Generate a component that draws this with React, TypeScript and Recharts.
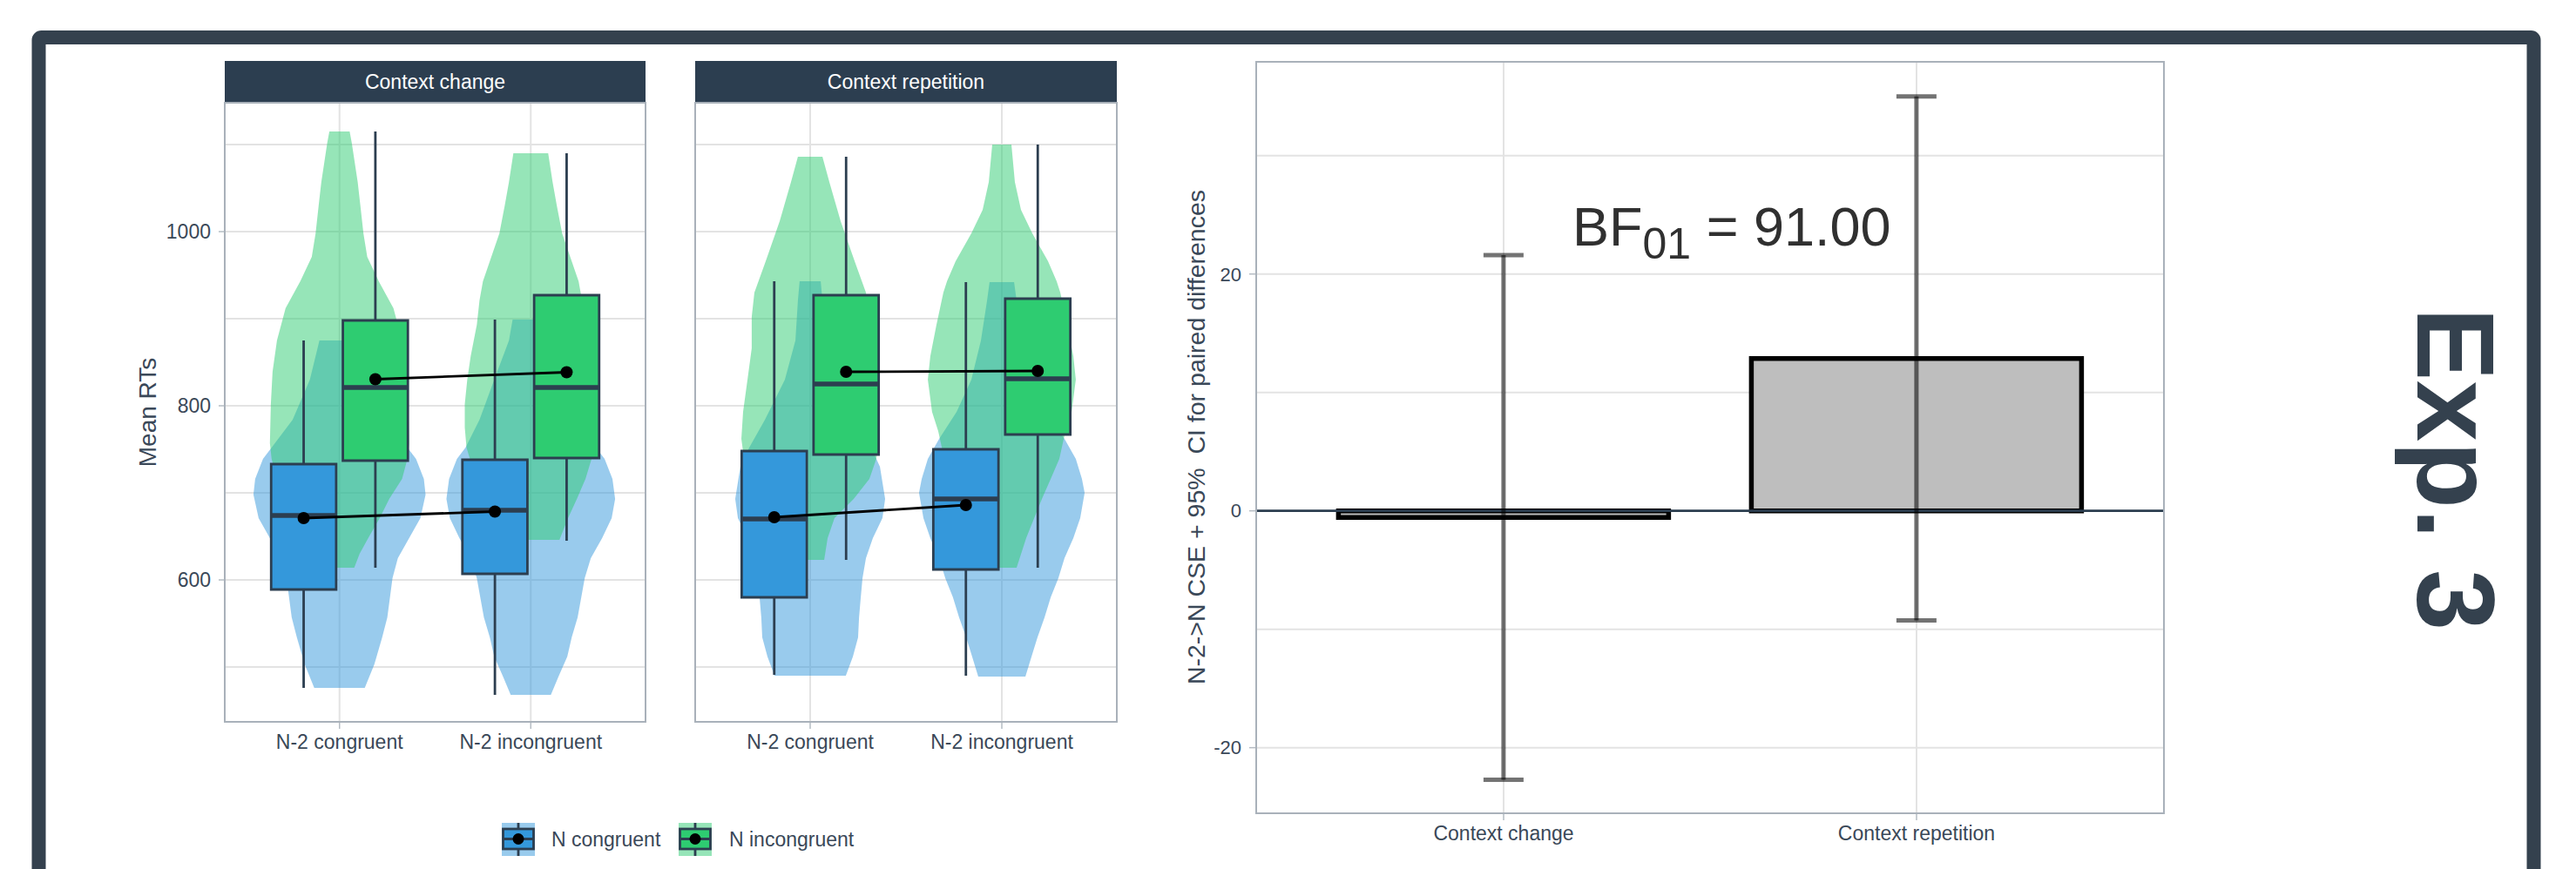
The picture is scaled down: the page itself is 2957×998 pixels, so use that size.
import React from 'react';
import {
  ComposedChart,
  Scatter,
  XAxis,
  YAxis,
  CartesianGrid,
  BarChart,
  Bar,
  ErrorBar,
  ReferenceLine,
} from 'recharts';

const FONT = '"Liberation Sans", Arial, Helvetica, sans-serif';
const BLUE = '#3498DB';
const GREEN = '#2ECC71';
const NAVY = '#2C3E50';
const FRAME = '#34414E';
const TEXT = '#3A4858';
const GRID = '#E3E3E3';
const BORDER = '#A9B1BA';
const TICK = '#B5BCC3';

// ---------- Left facets: mean RTs ----------
const facetLabels = ['Context change', 'Context repetition'];
const n2Labels = ['N-2 congruent', 'N-2 incongruent'];
const seriesLabels = ['N congruent', 'N incongruent'];
const rtTicks = [500, 600, 700, 800, 900, 1000, 1100];
const rtLabelledTicks = [600, 800, 1000];

type Box = { lo: number; q1: number; med: number; q3: number; hi: number; mean: number };

// box statistics, one entry per N-2 category
const changeCongruentBoxes: Box[] = [
  { lo: 476, q1: 589, med: 674, q3: 733, hi: 875, mean: 671 },
  { lo: 468, q1: 607, med: 680, q3: 738, hi: 899, mean: 678.5 },
];
const changeIncongruentBoxes: Box[] = [
  { lo: 614, q1: 737, med: 821, q3: 898, hi: 1115, mean: 830.5 },
  { lo: 645, q1: 740, med: 821, q3: 927, hi: 1090, mean: 838.5 },
];
const repetitionCongruentBoxes: Box[] = [
  { lo: 491, q1: 580, med: 670, q3: 748, hi: 943, mean: 672 },
  { lo: 490, q1: 612, med: 693, q3: 750, hi: 942, mean: 686 },
];
const repetitionIncongruentBoxes: Box[] = [
  { lo: 623, q1: 744, med: 825, q3: 927, hi: 1086, mean: 839 },
  { lo: 614, q1: 767, med: 831, q3: 923, hi: 1100, mean: 840 },
];

// violin outlines: [RT, half width in category units], top to bottom
const changeCongruentViolins: [number, number][][] = [
  [[875, 0.105], [830, 0.155], [784, 0.245], [752, 0.355], [739, 0.4], [716, 0.441], [698, 0.45], [671, 0.423], [648, 0.364], [625, 0.305], [602, 0.277], [557, 0.25], [534, 0.223], [503, 0.182], [476, 0.132]],
  [[899, 0.095], [875, 0.114], [830, 0.191], [784, 0.268], [752, 0.341], [739, 0.386], [716, 0.427], [693, 0.441], [671, 0.423], [648, 0.373], [625, 0.314], [602, 0.282], [580, 0.264], [557, 0.245], [534, 0.214], [512, 0.191], [489, 0.145], [468, 0.105]],
];
const changeIncongruentViolins: [number, number][][] = [
  [[1115, 0.053], [1102, 0.064], [1057, 0.095], [1030, 0.109], [998, 0.125], [971, 0.145], [943, 0.205], [912, 0.282], [875, 0.327], [839, 0.35], [802, 0.359], [757, 0.364], [739, 0.355], [716, 0.327], [693, 0.26], [671, 0.21], [648, 0.15], [630, 0.105], [614, 0.077]],
  [[1090, 0.091], [1057, 0.114], [1030, 0.136], [998, 0.164], [966, 0.214], [943, 0.25], [921, 0.268], [893, 0.282], [857, 0.314], [830, 0.332], [802, 0.345], [775, 0.345], [752, 0.336], [716, 0.286], [693, 0.241], [671, 0.195], [646, 0.15]],
];
const repetitionCongruentViolins: [number, number][][] = [
  [[943, 0.055], [921, 0.064], [875, 0.077], [830, 0.132], [784, 0.236], [752, 0.318], [730, 0.364], [693, 0.391], [671, 0.377], [648, 0.327], [625, 0.291], [602, 0.273], [580, 0.264], [557, 0.255], [534, 0.25], [512, 0.223], [490, 0.186]],
  [[942, 0.064], [921, 0.077], [875, 0.109], [830, 0.159], [793, 0.236], [762, 0.327], [739, 0.386], [716, 0.418], [700, 0.432], [671, 0.409], [648, 0.373], [625, 0.327], [602, 0.295], [580, 0.255], [557, 0.223], [534, 0.186], [512, 0.155], [489, 0.123]],
];
const repetitionIncongruentViolins: [number, number][][] = [
  [[1086, 0.064], [1057, 0.1], [1012, 0.159], [966, 0.232], [930, 0.291], [902, 0.305], [866, 0.305], [830, 0.327], [793, 0.35], [762, 0.359], [739, 0.345], [716, 0.309], [693, 0.227], [671, 0.127], [648, 0.091], [623, 0.073]],
  [[1100, 0.05], [1057, 0.068], [1025, 0.1], [998, 0.159], [966, 0.241], [943, 0.286], [930, 0.305], [893, 0.341], [857, 0.373], [830, 0.386], [793, 0.364], [771, 0.332], [739, 0.3], [716, 0.255], [693, 0.209], [648, 0.127], [614, 0.077]],
];

// ---------- Right panel: CSE differences ----------
const contexts = ['Context change', 'Context repetition'];
const cseValues = [-0.55, 12.87];
const ciLower = [-22.7, -9.26];
const ciUpper = [21.6, 35.0];
const cseTicks = [-20, -10, 0, 10, 20, 30];
const cseLabelledTicks = [-20, 0, 20];

const barData = contexts.map((context, i) => ({
  context,
  cse: cseValues[i],
  ci: [cseValues[i] - ciLower[i], ciUpper[i] - cseValues[i]],
}));

const DODGE = 0.1875;
const BOX_HALF = 0.17;

const violinOutline = (profile: [number, number][], center: number) => [
  ...profile.map(([rt, hw]) => ({ x: center + hw, y: rt })),
  ...profile
    .slice()
    .reverse()
    .map(([rt, hw]) => ({ x: center - hw, y: rt })),
];

const noDot = () => <g />;
const meanDot = (p: any) => <circle cx={p.cx} cy={p.cy} r={7} fill="#000" />;

const makeTick = (labelled: number[], fontSize: number) => (p: any) => {
  const v = p.payload.value;
  if (!labelled.includes(v)) return <g />;
  return (
    <g>
      <line x1={p.x + 9} x2={p.x + 17} y1={p.y} y2={p.y} stroke={TICK} strokeWidth={1.5} />
      <text x={p.x} y={p.y} dy="0.355em" textAnchor="end" fontSize={fontSize} fill={TEXT} fontFamily={FONT}>
        {v}
      </text>
    </g>
  );
};

const rtTick = makeTick(rtLabelledTicks, 23);
const cseTick = makeTick(cseLabelledTicks, 22);

function Facet(props: {
  left: number;
  width: number;
  yAxisWidth: number;
  marginRight: number;
  showY: boolean;
  congruentBoxes: Box[];
  incongruentBoxes: Box[];
  congruentViolins: [number, number][][];
  incongruentViolins: [number, number][][];
}) {
  const { left, width, yAxisWidth, marginRight, showY, congruentBoxes, incongruentBoxes, congruentViolins, incongruentViolins } = props;

  const violins = [
    ...congruentViolins.map((p, i) => ({ data: violinOutline(p, i + 1), color: BLUE })),
    ...incongruentViolins.map((p, i) => ({ data: violinOutline(p, i + 1), color: GREEN })),
  ];

  const boxes: { box: Box; cx: number; color: string }[] = [];
  n2Labels.forEach((_, i) => {
    boxes.push({ box: congruentBoxes[i], cx: i + 1 - DODGE, color: BLUE });
    boxes.push({ box: incongruentBoxes[i], cx: i + 1 + DODGE, color: GREEN });
  });

  const meanSeries = [
    congruentBoxes.map((b, i) => ({ x: i + 1 - DODGE, y: b.mean })),
    incongruentBoxes.map((b, i) => ({ x: i + 1 + DODGE, y: b.mean })),
  ];

  return (
    <div style={{ position: 'absolute', left, top: 100 }}>
      <ComposedChart width={width} height={800} margin={{ top: 18, right: marginRight, bottom: 0, left: 0 }}>
        <CartesianGrid stroke={GRID} strokeWidth={2} />
        <XAxis
          type="number"
          dataKey="x"
          domain={[0.4, 2.6]}
          allowDataOverflow
          ticks={[1, 2]}
          interval={0}
          tickFormatter={(v: number) => n2Labels[v - 1]}
          height={71}
          tickSize={8}
          tickMargin={7}
          axisLine={false}
          tickLine={{ stroke: TICK, strokeWidth: 1.5 }}
          tick={{ fontSize: 23, fill: TEXT, fontFamily: FONT }}
        />
        <YAxis
          type="number"
          dataKey="y"
          domain={[437, 1148]}
          allowDataOverflow
          ticks={rtTicks}
          interval={0}
          width={yAxisWidth}
          tickSize={8}
          tickMargin={8}
          axisLine={false}
          tickLine={false}
          tick={showY ? rtTick : noDot}
        />
        {violins.map((v, i) => (
          <Scatter
            key={`violin-${i}`}
            data={v.data}
            line={{ fill: v.color, fillOpacity: 0.5, stroke: 'none' }}
            lineJointType="linearClosed"
            shape={noDot}
            isAnimationActive={false}
          />
        ))}
        {boxes.map((b, i) => (
          <Scatter
            key={`whisker-${i}`}
            data={[
              { x: b.cx, y: b.box.lo },
              { x: b.cx, y: b.box.hi },
            ]}
            line={{ stroke: NAVY, strokeWidth: 2.8 }}
            shape={noDot}
            isAnimationActive={false}
          />
        ))}
        {boxes.map((b, i) => (
          <Scatter
            key={`box-${i}`}
            data={[
              { x: b.cx - BOX_HALF, y: b.box.q1 },
              { x: b.cx - BOX_HALF, y: b.box.q3 },
              { x: b.cx + BOX_HALF, y: b.box.q3 },
              { x: b.cx + BOX_HALF, y: b.box.q1 },
            ]}
            line={{ fill: b.color, stroke: NAVY, strokeWidth: 2.8 }}
            lineJointType="linearClosed"
            shape={noDot}
            isAnimationActive={false}
          />
        ))}
        {boxes.map((b, i) => (
          <Scatter
            key={`median-${i}`}
            data={[
              { x: b.cx - BOX_HALF, y: b.box.med },
              { x: b.cx + BOX_HALF, y: b.box.med },
            ]}
            line={{ stroke: NAVY, strokeWidth: 5.6 }}
            shape={noDot}
            isAnimationActive={false}
          />
        ))}
        {meanSeries.map((d, i) => (
          <Scatter
            key={`mean-${i}`}
            data={d}
            line={{ stroke: '#000', strokeWidth: 2.8 }}
            shape={meanDot}
            isAnimationActive={false}
          />
        ))}
      </ComposedChart>
    </div>
  );
}

function LegendKey({ x, y, color }: { x: number; y: number; color: string }) {
  return (
    <g>
      <rect x={x} y={y} width={38} height={38} fill={color} fillOpacity={0.5} />
      <line x1={x + 19} x2={x + 19} y1={y} y2={y + 38} stroke={NAVY} strokeWidth={2.8} />
      <rect x={x + 1.5} y={y + 7} width={35} height={23} fill={color} stroke={NAVY} strokeWidth={2.8} />
      <line x1={x + 1.5} x2={x + 36.5} y1={y + 18.5} y2={y + 18.5} stroke={NAVY} strokeWidth={3} />
      <circle cx={x + 19} cy={y + 18.5} r={6.5} fill="#000" />
    </g>
  );
}

export default function App() {
  return (
    <div style={{ position: 'absolute', left: 0, top: 0, width: 2957, height: 998, background: '#fff', fontFamily: FONT, overflow: 'hidden' }}>
      <Facet
        left={140}
        width={620}
        yAxisWidth={118}
        marginRight={19}
        showY
        congruentBoxes={changeCongruentBoxes}
        incongruentBoxes={changeIncongruentBoxes}
        congruentViolins={changeCongruentViolins}
        incongruentViolins={changeIncongruentViolins}
      />
      <Facet
        left={790}
        width={510}
        yAxisWidth={8}
        marginRight={18}
        showY={false}
        congruentBoxes={repetitionCongruentBoxes}
        incongruentBoxes={repetitionIncongruentBoxes}
        congruentViolins={repetitionCongruentViolins}
        incongruentViolins={repetitionIncongruentViolins}
      />

      <div style={{ position: 'absolute', left: 1300, top: 50 }}>
        <BarChart width={1200} height={934} data={barData} margin={{ top: 21, right: 16, bottom: 0, left: 0 }} barCategoryGap="10%">
          <CartesianGrid stroke={GRID} strokeWidth={2} />
          <XAxis
            dataKey="context"
            padding={{ left: 47, right: 47 }}
            height={50}
            tickSize={8}
            tickMargin={7}
            interval={0}
            axisLine={false}
            tickLine={{ stroke: TICK, strokeWidth: 1.5 }}
            tick={{ fontSize: 23, fill: TEXT, fontFamily: FONT }}
          />
          <YAxis
            type="number"
            domain={[-25.54, 37.92]}
            allowDataOverflow
            ticks={cseTicks}
            interval={0}
            width={142}
            tickSize={8}
            tickMargin={9}
            axisLine={false}
            tickLine={false}
            tick={cseTick}
          />
          <ReferenceLine y={0} stroke={NAVY} strokeWidth={2.7} />
          <Bar dataKey="cse" fill="#BEBEBE" stroke="#000" strokeWidth={5.5} isAnimationActive={false}>
            <ErrorBar dataKey="ci" width={23} stroke="#000" strokeOpacity={0.55} strokeWidth={5} isAnimationActive={false} />
          </Bar>
        </BarChart>
      </div>

      <svg width={2957} height={998} style={{ position: 'absolute', left: 0, top: 0, pointerEvents: 'none' }} fontFamily={FONT}>
        {/* outer frame */}
        <rect x={44.5} y={43} width={2864} height={1200} rx={3} fill="none" stroke={FRAME} strokeWidth={16} />

        {/* facet strips */}
        <rect x={258} y={70} width={483} height={48} fill={NAVY} />
        <text x={499.5} y={94} dy="0.355em" textAnchor="middle" fontSize={23} fill="#FFFFFF">{facetLabels[0]}</text>
        <rect x={798} y={70} width={484} height={48} fill={NAVY} />
        <text x={1040} y={94} dy="0.355em" textAnchor="middle" fontSize={23} fill="#FFFFFF">{facetLabels[1]}</text>

        {/* panel borders */}
        <rect x={258} y={118} width={483} height={711} fill="none" stroke={BORDER} strokeWidth={2} />
        <rect x={798} y={118} width={484} height={711} fill="none" stroke={BORDER} strokeWidth={2} />
        <rect x={1442} y={71} width={1042} height={863} fill="none" stroke={BORDER} strokeWidth={2} />

        {/* axis titles */}
        <text transform="translate(169,473.5) rotate(-90)" dy="0.355em" textAnchor="middle" fontSize={28} fill={TEXT}>Mean RTs</text>
        <text transform="translate(1373,502) rotate(-90)" dy="0.355em" textAnchor="middle" fontSize={28.5} fill={TEXT} xmlSpace="preserve">
          {'N-2->N CSE + 95%  CI for paired differences'}
        </text>

        {/* Bayes factor annotation */}
        <text x={1805} y={282} fontSize={63} fill="#303030">
          BF
          <tspan dy={15} fontSize={50}>01</tspan>
          <tspan dy={-15}> = 91.00</tspan>
        </text>

        {/* legend */}
        <LegendKey x={576} y={945} color={BLUE} />
        <text x={633} y={964} dy="0.355em" fontSize={23} fill={TEXT}>{seriesLabels[0]}</text>
        <LegendKey x={779} y={945} color={GREEN} />
        <text x={837} y={964} dy="0.355em" fontSize={23} fill={TEXT}>{seriesLabels[1]}</text>

        {/* experiment label */}
        <text transform="translate(2775,353) rotate(90)" fontSize={126} fontWeight="bold" fill={FRAME}>Exp. 3</text>
      </svg>
    </div>
  );
}
